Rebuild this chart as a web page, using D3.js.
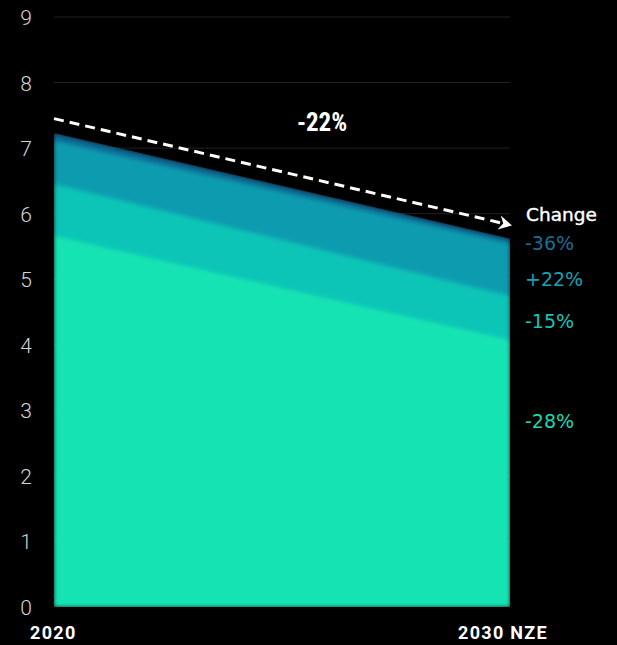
<!DOCTYPE html>
<html>
<head>
<meta charset="utf-8">
<script src="https://cdn.jsdelivr.net/npm/d3@7"></script>
<style>
  html, body { margin: 0; padding: 0; background: #000; }
  svg { display: block; }
</style>
</head>
<body>
<svg id="chart" width="617" height="645"></svg>
<script>
// Scenario years on the x axis
const years = ["2020", "2030 NZE"];
// Stacked layers, bottom to top
const layerNames = ["base", "second", "third", "upper"];
const baseLayer   = [5.67, 4.08];
const secondLayer = [0.79, 0.67];
const thirdLayer  = [0.66, 0.80];
const upperLayer  = [0.11, 0.07];
const layerColors = ["#13e3b4", "#11c5b7", "#0b9bb0", "#0a6893"];
const changeLabels = ["-28%", "-15%", "+22%", "-36%"];
const labelColors = ["#1ad9b0", "#19c3b6", "#16a3b4", "#1a6e96"];
// Dashed trend line endpoints and its label
const trendValues = [7.45, 5.82];
const trendLabel = "-22%";
const yTicks = [0, 1, 2, 3, 4, 5, 6, 7, 8, 9];

const svg = d3.select("#chart");
const x = d3.scalePoint().domain(years).range([54, 510]);
const y = d3.scaleLinear().domain([0, 9]).range([607, 17]);

const rows = years.map((yr, i) => ({
  year: yr, base: baseLayer[i], second: secondLayer[i], third: thirdLayer[i], upper: upperLayer[i]
}));
const series = d3.stack().keys(layerNames)(rows);

// grid lines
svg.append("g").selectAll("line").data(yTicks.filter(d => d > 0)).join("line")
  .attr("x1", 54).attr("x2", 510)
  .attr("y1", d => y(d)).attr("y2", d => y(d))
  .attr("stroke", "#222").attr("stroke-width", 1);

// y tick labels
svg.append("g").selectAll("text").data(yTicks).join("text")
  .attr("x", 26).attr("y", d => y(d) + 8)
  .attr("text-anchor", "middle")
  .attr("fill", "#d4d4d4")
  .attr("font-family", "Roboto, 'Noto Sans', sans-serif")
  .attr("font-weight", 300)
  .attr("font-size", 21)
  .text(d => d);

const area = d3.area()
  .x(d => x(d.data.year))
  .y0(d => y(d[0]))
  .y1(d => y(d[1]));

const defs = svg.append("defs");
defs.append("filter").attr("id", "soft")
  .attr("x", "-5%").attr("y", "-5%").attr("width", "110%").attr("height", "110%")
  .append("feGaussianBlur").attr("stdDeviation", 2.2);
const outline = d3.area()
  .x(d => x(d.data.year))
  .y0(y(0))
  .y1(d => y(d[1]));
defs.append("clipPath").attr("id", "stackClip")
  .append("path").attr("d", outline(series[series.length - 1]));

svg.append("g").attr("clip-path", "url(#stackClip)")
  .append("g").attr("filter", "url(#soft)")
  .selectAll("path").data(series).join("path")
  .attr("d", area)
  .attr("fill", (d, i) => layerColors[i])
  .attr("stroke", (d, i) => layerColors[i])
  .attr("stroke-width", 1);

// dashed trend arrow
const tx1 = x(years[0]), ty1 = y(trendValues[0]);
const tx2 = x(years[1]) + 2, ty2 = y(trendValues[1]);
const ang = Math.atan2(ty2 - ty1, tx2 - tx1);
const headLen = 15;
svg.append("line")
  .attr("x1", tx1).attr("y1", ty1)
  .attr("x2", tx2 - Math.cos(ang) * 8).attr("y2", ty2 - Math.sin(ang) * 8)
  .attr("stroke", "#fff").attr("stroke-width", 3)
  .attr("stroke-dasharray", "10 6");
const hx = tx2, hy = ty2;
const p = (a, r) => [hx - Math.cos(a) * r, hy - Math.sin(a) * r];
const l = p(ang - 0.5, headLen), rr = p(ang + 0.5, headLen), m = p(ang, headLen * 0.6);
svg.append("path")
  .attr("d", `M${hx},${hy}L${l[0]},${l[1]}L${m[0]},${m[1]}L${rr[0]},${rr[1]}Z`)
  .attr("fill", "#fff");

svg.append("text")
  .attr("x", 322).attr("y", 131)
  .attr("text-anchor", "middle")
  .attr("fill", "#fff")
  .attr("font-family", "'Liberation Sans Narrow', 'Roboto Condensed', Roboto, sans-serif")
  .attr("font-weight", 700)
  .attr("font-size", 25)
  .text(trendLabel);

// change labels at the right
svg.append("text")
  .attr("x", 526).attr("y", 221)
  .attr("fill", "#fff")
  .attr("stroke", "#fff").attr("stroke-width", 0.4)
  .attr("font-family", "'DejaVu Sans', sans-serif")
  .attr("font-size", 18.5)
  .text("Change");

const labelY = [421, 321, 279, 243];
svg.append("g").selectAll("text").data(changeLabels).join("text")
  .attr("x", 525).attr("y", (d, i) => labelY[i] + 7)
  .attr("fill", (d, i) => labelColors[i])
  .attr("font-family", "'DejaVu Sans', sans-serif")
  .attr("font-size", 19)
  .text(d => d);

// x labels
svg.append("g").selectAll("text").data(years).join("text")
  .attr("x", (d, i) => i === 0 ? 30 : 458)
  .attr("y", 639)
  .attr("fill", "#fff")
  .attr("font-family", "Roboto, sans-serif")
  .attr("font-weight", 700)
  .attr("font-size", 18)
  .attr("letter-spacing", 1.3)
  .text(d => d);
</script>
</body>
</html>
